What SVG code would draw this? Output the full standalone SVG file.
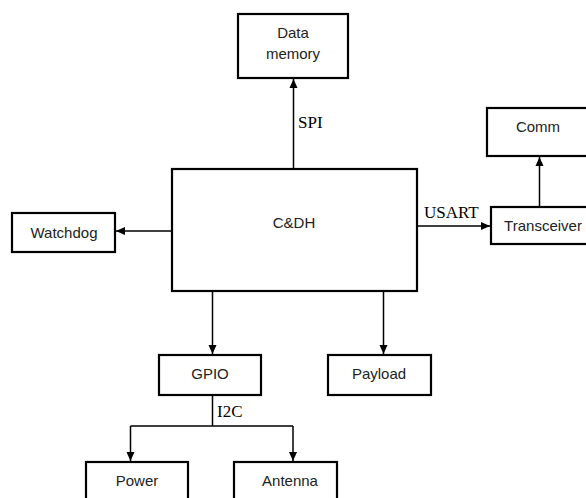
<svg xmlns="http://www.w3.org/2000/svg" width="586" height="498" viewBox="0 0 586 498">
<defs>
<style>
.box{fill:#fff;stroke:#000;stroke-width:2.2}
.t{font-family:"Liberation Sans",Arial,sans-serif;font-size:15px;fill:#222;text-anchor:middle}
.lbl{font-family:"Liberation Serif","Times New Roman",serif;font-size:17px;fill:#000}
.ln{fill:none;stroke:#000;stroke-width:1.5}
</style>
<marker id="ah" markerWidth="10" markerHeight="10" refX="9" refY="5" orient="auto" markerUnits="userSpaceOnUse">
<path d="M0,1 L9,5 L0,9 Z" fill="#000"/>
</marker>
</defs>
<rect width="586" height="498" fill="#fff"/>
<g id="connectors">
<path class="ln" d="M293.5,169 V79" marker-end="url(#ah)"/>
<path class="ln" d="M172,231 H116" marker-end="url(#ah)"/>
<path class="ln" d="M417,226 H490" marker-end="url(#ah)"/>
<path class="ln" d="M539.5,207 V157" marker-end="url(#ah)"/>
<path class="ln" d="M212.5,291 V354" marker-end="url(#ah)"/>
<path class="ln" d="M383.5,291 V354" marker-end="url(#ah)"/>
<path class="ln" d="M212.5,395 V426"/>
<path class="ln" d="M130.5,426 H293 M130.5,426 V461" marker-end="url(#ah)"/>
<path class="ln" d="M293,426 V461" marker-end="url(#ah)"/>
<text class="lbl" x="298" y="128">SPI</text>
<text class="lbl" x="424" y="218">USART</text>
<text class="lbl" x="217" y="417">I2C</text>
</g>
<g id="datamem"><rect class="box" x="238" y="14" width="110" height="64"/><text class="t" x="293" y="38">Data</text><text class="t" x="293" y="59">memory</text></g>
<g id="cdh"><rect class="box" x="172" y="169" width="245" height="122"/><text class="t" x="294" y="228">C&amp;DH</text></g>
<g id="watchdog"><rect class="box" x="12" y="213" width="103" height="39"/><text class="t" x="64" y="238">Watchdog</text></g>
<g id="comm"><rect class="box" x="487" y="108" width="110" height="48"/><text class="t" x="538" y="132">Comm</text></g>
<g id="transceiver"><rect class="box" x="491" y="207" width="110" height="37"/><text class="t" x="543" y="231">Transceiver</text></g>
<g id="gpio"><rect class="box" x="159" y="355" width="102" height="40"/><text class="t" x="210" y="379">GPIO</text></g>
<g id="payload"><rect class="box" x="328" y="355" width="103" height="40"/><text class="t" x="379" y="379">Payload</text></g>
<g id="power"><rect class="box" x="86" y="462" width="102" height="50"/><text class="t" x="137" y="486">Power</text></g>
<g id="antenna"><rect class="box" x="234" y="462" width="103" height="50"/><text class="t" x="290" y="486">Antenna</text></g>
</svg>
